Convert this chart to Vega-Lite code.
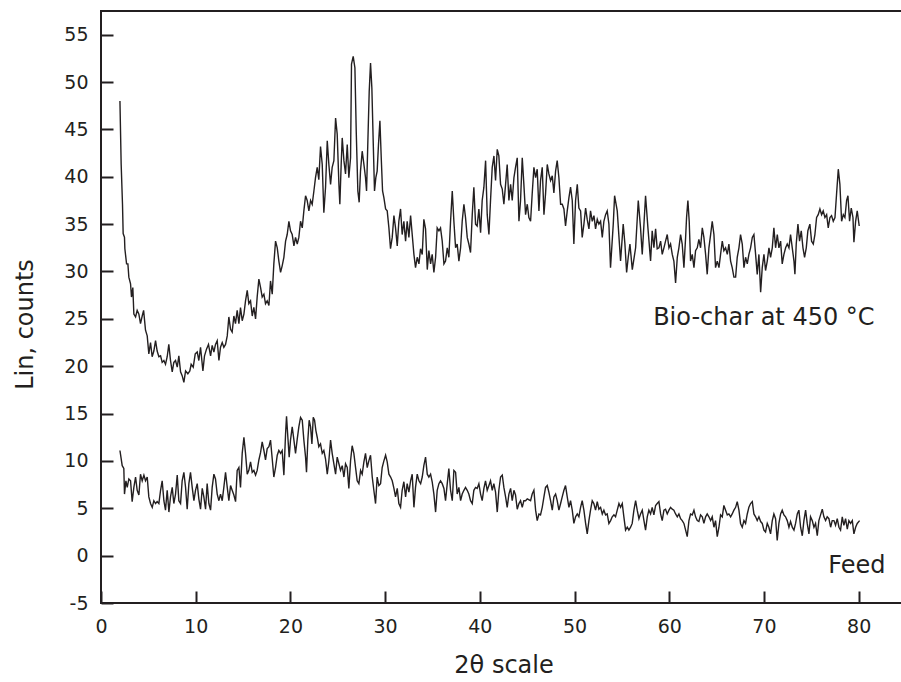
{
  "$schema": "https://vega.github.io/schema/vega-lite/v6.json",
  "width": 805,
  "height": 592,
  "autosize": {"type": "none"},
  "padding": {"left": 101, "top": 11, "right": 0, "bottom": 79},
  "background": "white",
  "config": {"view": {"stroke": "#231f20", "strokeWidth": 2}, "font": "DejaVu Sans"},
  "datasets": {
    "biochar": [
      {"t":2.0,"c":48.0},{"t":2.13,"c":41.3},{"t":2.27,"c":37.1},{"t":2.34,"c":34.0},{"t":2.48,"c":33.6},{"t":2.52,"c":32.4},{"t":2.7,"c":30.8},{"t":2.84,"c":30.8},{"t":2.94,"c":29.4},{"t":3.12,"c":28.7},{"t":3.22,"c":27.3},{"t":3.36,"c":28.3},{"t":3.47,"c":25.5},{"t":3.65,"c":25.2},{"t":3.82,"c":25.9},{"t":4.0,"c":25.5},{"t":4.17,"c":24.5},{"t":4.35,"c":25.3},{"t":4.5,"c":25.9},{"t":4.7,"c":23.8},{"t":4.88,"c":23.2},{"t":5.05,"c":21.3},{"t":5.23,"c":22.5},{"t":5.4,"c":21.0},{"t":5.58,"c":21.6},{"t":5.76,"c":22.7},{"t":5.93,"c":21.6},{"t":6.11,"c":21.0},{"t":6.29,"c":21.1},{"t":6.46,"c":20.4},{"t":6.64,"c":20.6},{"t":6.81,"c":20.2},{"t":6.99,"c":21.0},{"t":7.16,"c":22.3},{"t":7.34,"c":20.6},{"t":7.52,"c":19.4},{"t":7.69,"c":20.4},{"t":7.87,"c":20.6},{"t":8.05,"c":19.9},{"t":8.22,"c":21.1},{"t":8.4,"c":19.4},{"t":8.57,"c":19.0},{"t":8.75,"c":18.3},{"t":8.93,"c":19.5},{"t":9.17,"c":19.2},{"t":9.38,"c":19.5},{"t":9.52,"c":20.2},{"t":9.74,"c":19.9},{"t":9.95,"c":21.3},{"t":10.16,"c":21.5},{"t":10.33,"c":20.6},{"t":10.51,"c":22.0},{"t":10.76,"c":19.5},{"t":10.93,"c":21.1},{"t":11.14,"c":21.8},{"t":11.35,"c":22.3},{"t":11.57,"c":21.1},{"t":11.74,"c":22.2},{"t":11.92,"c":21.5},{"t":12.09,"c":22.3},{"t":12.27,"c":22.7},{"t":12.45,"c":20.6},{"t":12.62,"c":22.0},{"t":12.8,"c":22.5},{"t":12.97,"c":22.0},{"t":13.15,"c":22.3},{"t":13.33,"c":23.2},{"t":13.5,"c":25.2},{"t":13.68,"c":23.9},{"t":13.85,"c":23.6},{"t":14.03,"c":25.3},{"t":14.2,"c":24.5},{"t":14.38,"c":25.9},{"t":14.56,"c":24.5},{"t":14.73,"c":26.2},{"t":14.91,"c":24.8},{"t":15.09,"c":25.5},{"t":15.26,"c":26.9},{"t":15.44,"c":28.0},{"t":15.61,"c":26.6},{"t":15.79,"c":26.9},{"t":15.97,"c":25.3},{"t":16.14,"c":26.2},{"t":16.32,"c":25.0},{"t":16.49,"c":27.3},{"t":16.67,"c":29.2},{"t":16.85,"c":28.3},{"t":17.02,"c":27.3},{"t":17.2,"c":27.6},{"t":17.37,"c":26.6},{"t":17.55,"c":26.9},{"t":17.73,"c":26.4},{"t":17.9,"c":29.0},{"t":18.08,"c":27.6},{"t":18.25,"c":30.8},{"t":18.43,"c":33.2},{"t":18.61,"c":32.5},{"t":18.78,"c":31.1},{"t":18.96,"c":29.9},{"t":19.13,"c":30.6},{"t":19.31,"c":31.5},{"t":19.49,"c":33.2},{"t":19.66,"c":33.9},{"t":19.84,"c":35.3},{"t":20.01,"c":34.3},{"t":20.19,"c":33.9},{"t":20.37,"c":32.7},{"t":20.54,"c":33.6},{"t":20.72,"c":32.9},{"t":20.89,"c":33.6},{"t":21.07,"c":35.3},{"t":21.25,"c":34.6},{"t":21.42,"c":36.4},{"t":21.6,"c":38.0},{"t":21.77,"c":37.5},{"t":21.95,"c":36.4},{"t":22.13,"c":37.5},{"t":22.3,"c":37.1},{"t":22.48,"c":38.5},{"t":22.65,"c":39.9},{"t":22.83,"c":41.0},{"t":23.0,"c":39.7},{"t":23.18,"c":43.2},{"t":23.36,"c":41.3},{"t":23.53,"c":36.2},{"t":23.71,"c":38.9},{"t":23.89,"c":43.8},{"t":24.06,"c":41.3},{"t":24.24,"c":39.2},{"t":24.41,"c":41.0},{"t":24.59,"c":41.7},{"t":24.77,"c":46.2},{"t":24.94,"c":44.5},{"t":25.12,"c":39.2},{"t":25.22,"c":37.1},{"t":25.36,"c":41.3},{"t":25.47,"c":44.1},{"t":25.65,"c":41.7},{"t":25.82,"c":40.3},{"t":26.0,"c":43.4},{"t":26.17,"c":39.9},{"t":26.35,"c":42.0},{"t":26.45,"c":51.9},{"t":26.63,"c":52.7},{"t":26.81,"c":51.5},{"t":26.95,"c":44.8},{"t":27.12,"c":38.5},{"t":27.26,"c":37.3},{"t":27.4,"c":40.6},{"t":27.58,"c":42.7},{"t":27.76,"c":41.3},{"t":27.93,"c":39.9},{"t":28.04,"c":38.5},{"t":28.18,"c":43.8},{"t":28.32,"c":49.0},{"t":28.46,"c":52.0},{"t":28.6,"c":49.4},{"t":28.74,"c":43.8},{"t":28.88,"c":38.5},{"t":29.02,"c":39.9},{"t":29.16,"c":40.6},{"t":29.3,"c":43.4},{"t":29.45,"c":45.9},{"t":29.59,"c":42.0},{"t":29.73,"c":38.5},{"t":29.87,"c":37.8},
      {"t":30.05,"c":36.6},{"t":30.22,"c":36.4},{"t":30.4,"c":34.6},{"t":30.57,"c":32.4},{"t":30.75,"c":33.6},{"t":30.93,"c":35.9},{"t":31.1,"c":34.6},{"t":31.28,"c":32.7},{"t":31.45,"c":35.3},{"t":31.63,"c":36.6},{"t":31.8,"c":33.9},{"t":31.98,"c":35.3},{"t":32.16,"c":33.2},{"t":32.33,"c":35.3},{"t":32.51,"c":33.6},{"t":32.69,"c":35.9},{"t":32.86,"c":33.9},{"t":33.04,"c":31.8},{"t":33.21,"c":30.4},{"t":33.39,"c":31.5},{"t":33.57,"c":30.8},{"t":33.74,"c":32.4},{"t":33.92,"c":31.8},{"t":34.09,"c":35.5},{"t":34.27,"c":34.5},{"t":34.45,"c":30.2},{"t":34.62,"c":32.2},{"t":34.8,"c":30.8},{"t":34.97,"c":31.8},{"t":35.15,"c":29.9},{"t":35.33,"c":31.5},{"t":35.5,"c":34.6},{"t":35.68,"c":34.3},{"t":35.85,"c":34.6},{"t":36.03,"c":33.2},{"t":36.21,"c":30.8},{"t":36.38,"c":31.1},{"t":36.56,"c":32.5},{"t":36.73,"c":31.5},{"t":36.91,"c":35.3},{"t":37.09,"c":38.5},{"t":37.26,"c":35.3},{"t":37.44,"c":32.5},{"t":37.61,"c":32.9},{"t":37.79,"c":31.1},{"t":37.97,"c":32.5},{"t":38.14,"c":35.3},{"t":38.32,"c":37.1},{"t":38.49,"c":35.7},{"t":38.67,"c":33.6},{"t":38.84,"c":32.9},{"t":39.02,"c":32.0},{"t":39.2,"c":36.0},{"t":39.37,"c":38.9},{"t":39.55,"c":35.0},{"t":39.72,"c":34.8},{"t":39.9,"c":36.6},{"t":40.08,"c":34.1},{"t":40.25,"c":37.5},{"t":40.43,"c":38.9},{"t":40.61,"c":41.7},{"t":40.78,"c":36.0},{"t":40.96,"c":33.9},{"t":41.13,"c":37.5},{"t":41.31,"c":41.0},{"t":41.49,"c":42.2},{"t":41.66,"c":39.6},{"t":41.84,"c":42.9},{"t":42.01,"c":42.2},{"t":42.19,"c":39.2},{"t":42.37,"c":38.7},{"t":42.54,"c":37.1},{"t":42.72,"c":39.2},{"t":42.89,"c":41.3},{"t":43.07,"c":37.5},{"t":43.25,"c":39.2},{"t":43.42,"c":37.5},{"t":43.6,"c":39.9},{"t":43.77,"c":41.0},{"t":43.95,"c":42.0},{"t":44.13,"c":35.3},{"t":44.3,"c":37.5},{"t":44.48,"c":42.0},{"t":44.65,"c":39.2},{"t":44.83,"c":36.0},{"t":45.01,"c":37.1},{"t":45.18,"c":35.7},{"t":45.36,"c":35.3},{"t":45.53,"c":38.2},{"t":45.71,"c":41.0},{"t":45.89,"c":39.9},{"t":46.06,"c":40.8},{"t":46.24,"c":36.4},{"t":46.41,"c":39.6},{"t":46.59,"c":41.0},{"t":46.77,"c":36.0},{"t":46.94,"c":38.2},{"t":47.12,"c":41.3},{"t":47.29,"c":40.3},{"t":47.47,"c":39.6},{"t":47.65,"c":40.1},{"t":47.82,"c":38.3},{"t":48.0,"c":40.6},{"t":48.17,"c":41.7},{"t":48.35,"c":39.9},{"t":48.53,"c":37.1},{"t":48.7,"c":37.1},{"t":48.88,"c":36.6},{"t":49.05,"c":34.8},{"t":49.23,"c":36.4},{"t":49.41,"c":37.8},{"t":49.58,"c":38.9},{"t":49.76,"c":37.5},{"t":49.93,"c":32.9},{"t":50.11,"c":37.5},{"t":50.29,"c":39.2},{"t":50.46,"c":36.7},{"t":50.64,"c":36.4},{"t":50.81,"c":33.6},{"t":50.99,"c":35.0},{"t":51.17,"c":36.7},{"t":51.34,"c":35.5},{"t":51.52,"c":34.5},{"t":51.69,"c":36.4},{"t":51.87,"c":35.3},{"t":52.05,"c":35.9},{"t":52.22,"c":34.5},{"t":52.4,"c":35.5},{"t":52.57,"c":35.0},{"t":52.75,"c":35.3},{"t":52.93,"c":33.6},{"t":53.1,"c":35.3},{"t":53.28,"c":36.0},{"t":53.45,"c":36.4},{"t":53.63,"c":35.0},
      {"t":53.8,"c":30.4},{"t":54.09,"c":35.0},{"t":54.23,"c":38.0},{"t":54.51,"c":36.4},{"t":54.86,"c":31.1},{"t":55.14,"c":35.0},{"t":55.32,"c":32.9},{"t":55.5,"c":29.9},{"t":55.67,"c":31.5},{"t":55.85,"c":32.9},{"t":56.1,"c":30.2},{"t":56.45,"c":32.5},{"t":56.73,"c":37.5},{"t":56.97,"c":34.6},{"t":57.15,"c":31.8},{"t":57.5,"c":38.0},{"t":57.75,"c":34.6},{"t":58.03,"c":31.1},{"t":58.2,"c":34.3},{"t":58.38,"c":32.5},{"t":58.56,"c":34.5},{"t":58.73,"c":32.4},{"t":58.91,"c":32.5},{"t":59.09,"c":33.2},{"t":59.26,"c":31.8},{"t":59.44,"c":32.5},{"t":59.61,"c":33.2},{"t":59.79,"c":33.9},{"t":59.97,"c":32.5},{"t":60.14,"c":32.9},{"t":60.32,"c":31.8},{"t":60.49,"c":31.1},{"t":60.67,"c":28.8},{"t":60.85,"c":31.5},{"t":61.02,"c":32.5},{"t":61.2,"c":33.9},{"t":61.37,"c":32.9},{"t":61.55,"c":30.4},{"t":61.73,"c":33.6},{"t":61.83,"c":35.7},{"t":61.97,"c":37.5},{"t":62.11,"c":35.3},{"t":62.25,"c":31.1},{"t":62.43,"c":31.8},{"t":62.61,"c":30.4},{"t":62.78,"c":32.2},{"t":62.96,"c":32.5},{"t":63.13,"c":33.4},{"t":63.31,"c":32.5},{"t":63.49,"c":34.6},{"t":63.66,"c":33.6},{"t":63.84,"c":31.8},{"t":64.01,"c":29.7},{"t":64.19,"c":32.5},{"t":64.37,"c":33.9},{"t":64.54,"c":35.3},{"t":64.72,"c":33.9},{"t":64.89,"c":30.4},{"t":65.07,"c":31.1},{"t":65.25,"c":30.4},{"t":65.42,"c":31.8},{"t":65.6,"c":33.2},{"t":65.77,"c":32.2},{"t":65.95,"c":32.5},{"t":66.13,"c":31.8},{"t":66.3,"c":32.9},{"t":66.48,"c":31.1},{"t":66.65,"c":30.4},{"t":66.83,"c":29.4},{"t":67.01,"c":29.4},{"t":67.18,"c":31.5},{"t":67.36,"c":32.5},{"t":67.53,"c":33.9},{"t":67.71,"c":32.9},{"t":67.89,"c":30.4},{"t":68.06,"c":31.5},{"t":68.24,"c":30.8},{"t":68.41,"c":31.8},{"t":68.59,"c":32.5},{"t":68.77,"c":33.6},{"t":68.94,"c":33.9},{"t":69.12,"c":31.8},{"t":69.29,"c":29.7},{"t":69.47,"c":31.8},{"t":69.65,"c":27.8},{"t":69.82,"c":30.4},{"t":70.0,"c":31.8},{"t":70.17,"c":30.1},{"t":70.35,"c":31.1},{"t":70.53,"c":32.5},{"t":70.7,"c":31.5},{"t":70.88,"c":32.5},{"t":71.05,"c":34.6},{"t":71.23,"c":32.5},{"t":71.41,"c":33.9},{"t":71.58,"c":32.5},{"t":71.76,"c":33.2},{"t":71.93,"c":30.8},{"t":72.11,"c":31.8},{"t":72.29,"c":32.5},{"t":72.46,"c":32.9},{"t":72.64,"c":32.5},{"t":72.81,"c":33.9},{"t":72.99,"c":32.5},{"t":73.17,"c":31.1},{"t":73.27,"c":29.7},{"t":73.41,"c":32.9},{"t":73.59,"c":35.0},{"t":73.76,"c":33.2},{"t":73.94,"c":34.3},{"t":74.12,"c":32.5},{"t":74.29,"c":31.5},{"t":74.47,"c":32.5},{"t":74.64,"c":34.3},{"t":74.85,"c":35.0},{"t":75.03,"c":33.2},{"t":75.21,"c":32.9},{"t":75.38,"c":33.9},{"t":75.56,"c":35.7},{"t":75.73,"c":36.0},{"t":75.91,"c":36.6},{"t":76.09,"c":36.0},{"t":76.26,"c":36.4},{"t":76.44,"c":35.7},{"t":76.62,"c":36.0},{"t":76.79,"c":34.6},{"t":76.97,"c":35.7},{"t":77.14,"c":35.9},{"t":77.32,"c":35.3},{"t":77.5,"c":35.7},{"t":77.67,"c":38.2},{"t":77.85,"c":40.8},{"t":78.02,"c":39.2},{"t":78.2,"c":35.3},{"t":78.38,"c":36.0},{"t":78.55,"c":35.7},{"t":78.73,"c":37.5},{"t":78.87,"c":38.0},{"t":79.04,"c":35.3},{"t":79.22,"c":36.7},{"t":79.4,"c":35.7},{"t":79.5,"c":33.1},{"t":79.68,"c":35.3},{"t":79.85,"c":36.4},{"t":80.06,"c":34.8}
    ],
    "feed": [
      {"t":2.0,"c":11.1},{"t":2.24,"c":9.5},{"t":2.41,"c":9.2},{"t":2.48,"c":6.5},{"t":2.63,"c":7.9},{"t":2.77,"c":7.2},{"t":2.94,"c":8.1},{"t":3.12,"c":7.9},{"t":3.29,"c":5.7},{"t":3.47,"c":7.2},{"t":3.65,"c":8.3},{"t":3.82,"c":6.9},{"t":4.0,"c":6.4},{"t":4.17,"c":8.6},{"t":4.35,"c":7.9},{"t":4.53,"c":8.5},{"t":4.7,"c":7.9},{"t":4.88,"c":8.3},{"t":5.05,"c":6.2},{"t":5.23,"c":5.5},{"t":5.41,"c":5.1},{"t":5.58,"c":5.8},{"t":5.76,"c":5.5},{"t":5.93,"c":5.7},{"t":6.11,"c":5.5},{"t":6.29,"c":6.9},{"t":6.46,"c":7.9},{"t":6.64,"c":5.8},{"t":6.81,"c":4.8},{"t":6.99,"c":6.9},{"t":7.17,"c":4.6},{"t":7.34,"c":6.2},{"t":7.52,"c":7.2},{"t":7.69,"c":5.5},{"t":7.87,"c":6.5},{"t":8.05,"c":8.5},{"t":8.22,"c":5.8},{"t":8.4,"c":5.5},{"t":8.57,"c":7.9},{"t":8.75,"c":8.8},{"t":8.93,"c":7.2},{"t":9.1,"c":4.9},{"t":9.28,"c":7.6},{"t":9.45,"c":8.8},{"t":9.63,"c":7.2},{"t":9.81,"c":5.8},{"t":9.98,"c":6.9},{"t":10.16,"c":7.6},{"t":10.33,"c":6.0},{"t":10.51,"c":4.9},{"t":10.69,"c":7.1},{"t":10.86,"c":6.2},{"t":11.04,"c":4.9},{"t":11.21,"c":7.6},{"t":11.39,"c":5.5},{"t":11.57,"c":4.8},{"t":11.74,"c":7.2},{"t":11.92,"c":8.6},{"t":12.09,"c":8.1},{"t":12.27,"c":6.5},{"t":12.45,"c":5.8},{"t":12.62,"c":6.5},{"t":12.8,"c":5.8},{"t":12.97,"c":7.2},{"t":13.15,"c":8.8},{"t":13.33,"c":7.2},{"t":13.5,"c":5.8},{"t":13.68,"c":7.4},{"t":13.85,"c":6.9},{"t":14.03,"c":6.4},{"t":14.21,"c":5.7},{"t":14.38,"c":9.0},{"t":14.56,"c":9.3},{"t":14.73,"c":7.2},{"t":14.91,"c":10.8},{"t":15.09,"c":12.5},{"t":15.26,"c":10.8},{"t":15.44,"c":8.6},{"t":15.61,"c":9.0},{"t":15.79,"c":9.9},{"t":15.97,"c":8.8},{"t":16.14,"c":9.0},{"t":16.32,"c":8.5},{"t":16.49,"c":9.0},{"t":16.67,"c":10.1},{"t":16.85,"c":10.9},{"t":17.02,"c":12.0},{"t":17.2,"c":11.1},{"t":17.37,"c":10.1},{"t":17.55,"c":11.3},{"t":17.73,"c":11.5},{"t":17.9,"c":12.2},{"t":18.08,"c":10.2},{"t":18.25,"c":8.3},{"t":18.43,"c":9.3},{"t":18.61,"c":10.6},{"t":18.78,"c":11.1},{"t":18.96,"c":10.8},{"t":19.13,"c":11.1},{"t":19.31,"c":8.5},{"t":19.49,"c":12.9},{"t":19.59,"c":14.7},{"t":19.73,"c":12.5},{"t":19.87,"c":10.4},{"t":20.01,"c":12.2},{"t":20.19,"c":13.6},{"t":20.37,"c":12.2},{"t":20.54,"c":10.8},{"t":20.72,"c":12.3},{"t":20.89,"c":13.6},{"t":21.07,"c":14.6},{"t":21.25,"c":14.3},{"t":21.42,"c":12.2},{"t":21.6,"c":10.4},{"t":21.7,"c":8.8},{"t":21.84,"c":12.2},{"t":21.98,"c":14.3},{"t":22.13,"c":13.6},{"t":22.27,"c":11.8},{"t":22.41,"c":14.6},{"t":22.55,"c":14.3},{"t":22.69,"c":13.2},{"t":22.83,"c":12.5},{"t":23.0,"c":11.5},{"t":23.18,"c":11.8},{"t":23.36,"c":10.8},{"t":23.53,"c":11.1},{"t":23.71,"c":10.2},{"t":23.89,"c":8.6},{"t":24.06,"c":10.0},{"t":24.24,"c":12.2},{"t":24.41,"c":10.8},{"t":24.59,"c":9.7},{"t":24.77,"c":8.6},{"t":24.94,"c":10.4},{"t":25.12,"c":9.7},{"t":25.29,"c":9.0},{"t":25.47,"c":9.5},{"t":25.65,"c":8.3},{"t":25.82,"c":9.7},{"t":26.0,"c":9.3},{"t":26.17,"c":7.1},{"t":26.35,"c":10.0},{"t":26.52,"c":11.6},{"t":26.7,"c":10.8},{"t":26.88,"c":9.3},{"t":27.05,"c":7.9},{"t":27.23,"c":7.6},{"t":27.41,"c":9.0},{"t":27.58,"c":8.6},{"t":27.76,"c":9.9},{"t":27.93,"c":10.8},{"t":28.11,"c":9.3},{"t":28.28,"c":10.0},{"t":28.46,"c":10.6},{"t":28.64,"c":8.3},{"t":28.81,"c":6.9},{"t":28.99,"c":5.5},{"t":29.16,"c":8.3},{"t":29.34,"c":7.4},{"t":29.52,"c":7.6},{"t":29.69,"c":9.3},{"t":29.87,"c":10.0},{"t":30.05,"c":10.6},{"t":30.22,"c":9.9},{"t":30.4,"c":8.6},{"t":30.58,"c":8.3},{"t":30.75,"c":7.9},{"t":30.93,"c":7.1},{"t":31.1,"c":6.2},{"t":31.28,"c":7.1},{"t":31.45,"c":5.5},{"t":31.63,"c":5.1},{"t":31.8,"c":6.9},{"t":31.98,"c":7.8},{"t":32.16,"c":6.2},{"t":32.33,"c":7.6},{"t":32.51,"c":6.7},{"t":32.69,"c":7.9},{"t":32.86,"c":8.6},{"t":33.04,"c":5.1},{"t":33.21,"c":7.2},{"t":33.39,"c":8.6},{"t":33.57,"c":7.9},{"t":33.75,"c":7.6},{"t":33.92,"c":8.3},{"t":34.09,"c":9.5},{"t":34.27,"c":10.4},{"t":34.45,"c":8.6},{"t":34.62,"c":8.3},{"t":34.8,"c":8.6},{"t":34.97,"c":7.8},{"t":35.15,"c":6.5},{"t":35.33,"c":4.6},{"t":35.5,"c":6.9},{"t":35.68,"c":7.6},{"t":35.85,"c":7.9},{"t":36.03,"c":7.6},{"t":36.21,"c":7.1},{"t":36.38,"c":5.8},{"t":36.56,"c":7.6},{"t":36.73,"c":9.2},{"t":36.91,"c":6.9},{"t":37.09,"c":5.8},{"t":37.26,"c":9.0},{"t":37.44,"c":8.8},{"t":37.61,"c":6.5},{"t":37.79,"c":7.2},{"t":37.97,"c":5.8},{"t":38.14,"c":6.5},{"t":38.32,"c":6.9},{"t":38.49,"c":7.2},{"t":38.67,"c":6.9},{"t":38.84,"c":6.5},{"t":39.02,"c":5.8},{"t":39.2,"c":5.5},{"t":39.37,"c":6.9},{"t":39.55,"c":7.2},{"t":39.72,"c":7.1},{"t":39.9,"c":7.6},{"t":40.08,"c":6.5},{"t":40.25,"c":5.8},{"t":40.43,"c":7.1},{"t":40.6,"c":7.9},{"t":40.78,"c":6.9},{"t":40.96,"c":7.4},{"t":41.13,"c":7.9},{"t":41.31,"c":6.9},{"t":41.48,"c":7.6},
      {"t":41.66,"c":6.7},{"t":41.84,"c":4.6},{"t":42.01,"c":6.9},{"t":42.19,"c":8.3},{"t":42.37,"c":8.5},{"t":42.54,"c":7.2},{"t":42.72,"c":6.2},{"t":42.89,"c":5.1},{"t":43.07,"c":6.5},{"t":43.25,"c":7.1},{"t":43.42,"c":5.8},{"t":43.6,"c":6.9},{"t":43.77,"c":6.4},{"t":43.95,"c":4.9},{"t":44.13,"c":5.5},{"t":44.3,"c":5.8},{"t":44.48,"c":5.1},{"t":44.65,"c":5.8},{"t":44.83,"c":5.8},{"t":45.01,"c":6.0},{"t":45.36,"c":5.8},{"t":45.53,"c":6.5},{"t":45.71,"c":6.9},{"t":45.89,"c":4.8},{"t":46.06,"c":3.7},{"t":46.24,"c":4.4},{"t":46.41,"c":4.3},{"t":46.59,"c":5.1},{"t":46.77,"c":6.2},{"t":46.94,"c":7.2},{"t":47.12,"c":7.4},{"t":47.29,"c":6.7},{"t":47.47,"c":5.8},{"t":47.65,"c":4.8},{"t":47.82,"c":6.2},{"t":48.0,"c":6.5},{"t":48.17,"c":5.8},{"t":48.35,"c":4.8},{"t":48.53,"c":5.5},{"t":48.7,"c":6.2},{"t":48.88,"c":6.9},{"t":49.05,"c":7.4},{"t":49.23,"c":6.2},{"t":49.41,"c":5.1},{"t":49.58,"c":5.8},{"t":49.76,"c":4.8},{"t":49.93,"c":3.4},{"t":50.11,"c":4.1},{"t":50.29,"c":4.4},{"t":50.46,"c":4.1},{"t":50.64,"c":5.1},{"t":50.81,"c":5.8},{"t":50.99,"c":4.8},{"t":51.17,"c":3.4},{"t":51.34,"c":2.3},{"t":51.52,"c":3.7},{"t":51.69,"c":4.8},{"t":51.87,"c":5.8},{"t":52.04,"c":5.5},{"t":52.22,"c":4.8},{"t":52.4,"c":5.7},{"t":52.57,"c":4.9},{"t":52.75,"c":5.1},{"t":52.93,"c":4.4},{"t":53.1,"c":4.8},{"t":53.28,"c":4.3},{"t":53.45,"c":4.4},{"t":53.63,"c":3.4},{"t":53.81,"c":3.7},{"t":53.98,"c":4.1},{"t":54.16,"c":4.3},{"t":54.33,"c":4.1},{"t":54.51,"c":4.8},{"t":54.69,"c":5.5},{"t":54.86,"c":5.1},{"t":55.04,"c":5.5},{"t":55.21,"c":4.1},{"t":55.39,"c":2.7},{"t":55.57,"c":3.0},{"t":55.74,"c":2.7},{"t":55.92,"c":3.0},{"t":56.09,"c":3.4},{"t":56.27,"c":4.8},{"t":56.45,"c":5.8},{"t":56.62,"c":4.8},{"t":56.8,"c":3.9},{"t":56.97,"c":4.4},{"t":57.15,"c":4.8},{"t":57.33,"c":3.7},{"t":57.5,"c":2.7},{"t":57.68,"c":4.1},{"t":57.85,"c":4.8},{"t":58.03,"c":4.4},{"t":58.2,"c":5.1},{"t":58.38,"c":4.3},{"t":58.56,"c":5.3},{"t":58.73,"c":5.5},{"t":58.91,"c":5.7},{"t":59.09,"c":4.4},{"t":59.26,"c":3.7},{"t":59.44,"c":4.8},{"t":59.61,"c":4.9},{"t":59.79,"c":4.4},{"t":59.97,"c":4.8},{"t":60.14,"c":5.1},{"t":60.32,"c":4.9},{"t":60.49,"c":4.8},{"t":60.67,"c":4.4},{"t":60.85,"c":4.1},{"t":61.02,"c":4.4},{"t":61.2,"c":3.9},{"t":61.37,"c":3.7},{"t":61.55,"c":3.4},{"t":61.73,"c":2.7},{"t":61.9,"c":2.0},{"t":62.08,"c":3.7},{"t":62.25,"c":4.4},{"t":62.43,"c":4.3},{"t":62.61,"c":4.8},{"t":62.78,"c":4.1},{"t":62.96,"c":3.7},{"t":63.13,"c":3.6},{"t":63.31,"c":4.3},{"t":63.49,"c":4.1},{"t":63.66,"c":3.4},{"t":63.84,"c":4.1},{"t":64.01,"c":4.4},{"t":64.19,"c":4.1},{"t":64.37,"c":3.7},{"t":64.54,"c":4.1},{"t":64.72,"c":3.0},{"t":64.89,"c":3.7},{"t":65.07,"c":2.0},{"t":65.25,"c":3.0},{"t":65.42,"c":4.3},{"t":65.6,"c":4.1},{"t":65.77,"c":5.3},{"t":65.95,"c":4.8},{"t":66.13,"c":4.3},{"t":66.3,"c":4.4},{"t":66.48,"c":4.1},{"t":66.65,"c":4.4},{"t":66.83,"c":4.8},{"t":67.01,"c":5.1},{"t":67.18,"c":5.7},{"t":67.36,"c":4.8},{"t":67.53,"c":3.4},{"t":67.71,"c":3.0},{"t":67.89,"c":3.7},{"t":68.06,"c":3.4},{"t":68.24,"c":4.4},{"t":68.41,"c":5.1},{"t":68.59,"c":5.5},{"t":68.77,"c":5.7},{"t":68.94,"c":4.4},{"t":69.12,"c":4.1},{"t":69.29,"c":3.7},{"t":69.47,"c":4.1},{"t":69.65,"c":3.6},{"t":69.82,"c":3.4},{"t":70.0,"c":2.7},{"t":70.17,"c":2.5},{"t":70.35,"c":3.4},{"t":70.52,"c":3.0},{"t":70.7,"c":2.3},{"t":70.88,"c":3.7},{"t":71.05,"c":4.4},{"t":71.23,"c":3.9},{"t":71.4,"c":1.6},{"t":71.58,"c":3.4},{"t":71.76,"c":4.4},{"t":71.93,"c":4.8},{"t":72.11,"c":4.3},{"t":72.28,"c":4.1},{"t":72.46,"c":3.7},{"t":72.64,"c":3.0},{"t":72.81,"c":3.6},{"t":72.99,"c":3.0},{"t":73.17,"c":2.7},{"t":73.34,"c":3.4},{"t":73.52,"c":4.4},{"t":73.69,"c":4.8},{"t":73.87,"c":3.0},{"t":74.05,"c":2.1},{"t":74.22,"c":3.7},{"t":74.4,"c":4.8},{"t":74.57,"c":3.4},{"t":74.75,"c":2.3},{"t":74.92,"c":4.1},{"t":75.1,"c":3.7},{"t":75.28,"c":3.0},{"t":75.45,"c":3.4},{"t":75.63,"c":2.1},{"t":75.8,"c":3.7},{"t":75.98,"c":4.3},{"t":76.16,"c":4.9},{"t":76.33,"c":4.1},{"t":76.51,"c":3.7},{"t":76.68,"c":4.1},{"t":76.86,"c":3.9},{"t":77.04,"c":3.0},{"t":77.21,"c":3.7},{"t":77.39,"c":3.7},{"t":77.56,"c":3.2},{"t":77.74,"c":3.9},{"t":77.92,"c":3.0},{"t":78.09,"c":2.7},{"t":78.27,"c":4.1},{"t":78.44,"c":3.2},{"t":78.62,"c":3.9},{"t":78.8,"c":2.8},{"t":78.97,"c":3.7},{"t":79.15,"c":3.4},{"t":79.33,"c":3.7},{"t":79.5,"c":2.3},{"t":79.68,"c":3.0},{"t":79.85,"c":3.4},{"t":80.1,"c":3.7}
    ],
    "labels": [
      {"label": "Bio-char at 450 °C", "t": 58.3, "c": 24.3},
      {"label": "Feed", "t": 76.8, "c": -1.78}
    ]
  },
  "layer": [
    {
      "data": {"name": "biochar"},
      "mark": {"type": "line", "color": "#231f20", "strokeWidth": 1.4},
      "encoding": {
        "x": {
          "field": "t", "type": "quantitative",
          "scale": {"domain": [0, 85], "nice": false, "zero": false},
          "axis": {
            "title": "2θ scale", "values": [0,10,20,30,40,50,60,70,80], "grid": false,
            "domain": false, "offset": -12,
            "tickColor": "#231f20", "tickWidth": 2, "tickSize": 12,
            "labelPadding": 14, "labelFont": "DejaVu Sans", "labelFontSize": 19, "labelColor": "#231f20",
            "labelFlush": false, "labelOverlap": false, "labelBaseline": "top",
            "titleFont": "DejaVu Sans", "titleFontSize": 24, "titleFontWeight": "normal", "titleColor": "#231f20",
            "titleY": 81, "titleBaseline": "alphabetic"
          }
        },
        "y": {
          "field": "c", "type": "quantitative",
          "scale": {"domain": [-5, 57.5], "nice": false, "zero": false},
          "axis": {
            "title": "Lin, counts", "values": [-5,0,5,10,15,20,25,30,35,40,45,50,55], "grid": false,
            "domain": false, "offset": -12,
            "tickColor": "#231f20", "tickWidth": 2, "tickSize": 12,
            "labelPadding": 13, "labelFont": "DejaVu Sans", "labelFontSize": 19, "labelColor": "#231f20",
            "labelFlush": false, "labelOverlap": false, "labelExpr": "'' + datum.value",
            "titleFont": "DejaVu Sans", "titleFontSize": 24, "titleFontWeight": "normal", "titleColor": "#231f20",
            "titleX": -81, "titleY": 313, "titleBaseline": "alphabetic", "titleAlign": "center"
          }
        }
      }
    },
    {
      "data": {"name": "feed"},
      "mark": {"type": "line", "color": "#231f20", "strokeWidth": 1.4},
      "encoding": {
        "x": {"field": "t", "type": "quantitative"},
        "y": {"field": "c", "type": "quantitative"}
      }
    },
    {
      "data": {"name": "labels"},
      "mark": {"type": "text", "font": "DejaVu Sans", "fontSize": 24, "color": "#231f20", "align": "left", "baseline": "alphabetic"},
      "encoding": {
        "x": {"field": "t", "type": "quantitative"},
        "y": {"field": "c", "type": "quantitative"},
        "text": {"field": "label"}
      }
    }
  ]
}
